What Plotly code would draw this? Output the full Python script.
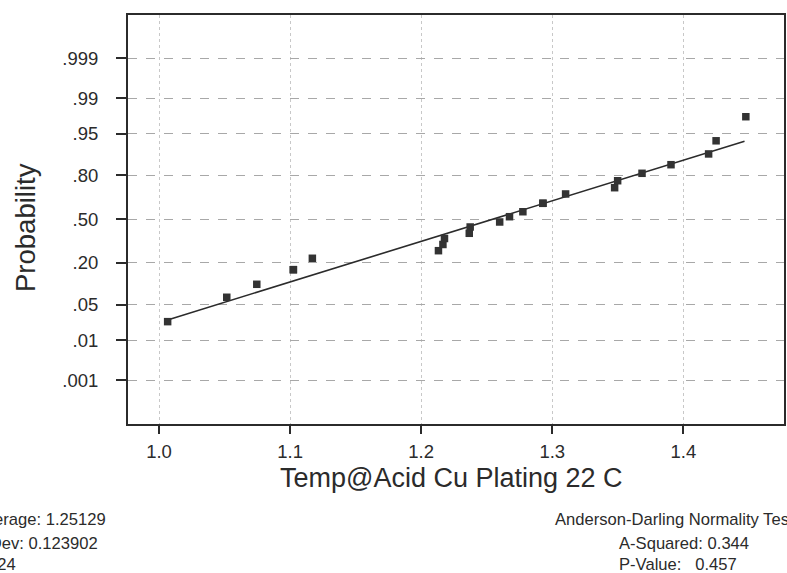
from statistics import NormalDist
import plotly.graph_objects as go

# ---- data ----
temp_values = [1.0066, 1.0517, 1.0746, 1.1025, 1.1025, 1.1170, 1.2132, 1.2166,
               1.2178, 1.2367, 1.2374, 1.2599, 1.2674, 1.2776, 1.2929, 1.2929,
               1.3102, 1.3476, 1.3499, 1.3685, 1.3906, 1.4193, 1.4250, 1.4477]
prob_values = [0.0245, 0.0668, 0.1055, 0.1660, 0.1660, 0.2263, 0.2726, 0.3135,
               0.3553, 0.3932, 0.4404, 0.4785, 0.5190, 0.5570, 0.6200, 0.6200,
               0.6860, 0.7274, 0.7700, 0.8110, 0.8524, 0.8950, 0.9340, 0.9755]
fit_x = [1.0071, 1.4467]
fit_p = [0.0268, 0.9328]

prob_ticks = [0.001, 0.01, 0.05, 0.20, 0.50, 0.80, 0.95, 0.99, 0.999]
prob_tick_labels = [".001", ".01", ".05", ".20", ".50", ".80", ".95", ".99", ".999"]
x_ticks = [1.0, 1.1, 1.2, 1.3, 1.4]
x_tick_labels = ["1.0", "1.1", "1.2", "1.3", "1.4"]

stats_left = ["Average: 1.25129", "StDev: 0.123902", "N: 24"]
stats_right = ["Anderson-Darling Normality Test", "A-Squared: 0.344", "P-Value:   0.457"]

nd = NormalDist()
z = lambda p: nd.inv_cdf(p)

W, H = 787, 573
L, R, T, B = 128, 784, 15, 424
pw, ph = R - L, B - T
px = lambda x: (x - L) / pw
py = lambda y: (B - y) / ph

FONT = "Arial, Liberation Sans, sans-serif"
INK = "#2b2b2b"

fig = go.Figure()
fig.add_trace(go.Scatter(x=fit_x, y=[z(p) for p in fit_p], mode="lines",
                         line=dict(color=INK, width=1.6), showlegend=False,
                         hoverinfo="skip"))
fig.add_trace(go.Scatter(x=temp_values, y=[z(p) for p in prob_values], mode="markers",
                         marker=dict(symbol="square", size=7.5, color="#333333",
                                     line=dict(width=0)),
                         showlegend=False))

fig.update_layout(
    width=W, height=H,
    margin=dict(l=L, r=W - R, t=T, b=H - B, autoexpand=False),
    paper_bgcolor="white", plot_bgcolor="white",
    font=dict(family=FONT, color=INK),
    xaxis=dict(range=[0.97635, 1.47681], tickvals=x_ticks, ticktext=x_tick_labels,
               ticks="outside", ticklen=8, tickwidth=1.5, tickcolor=INK,
               tickfont=dict(size=18.5, family=FONT, color=INK),
               showline=True, mirror=True, linecolor=INK, linewidth=2,
               showgrid=True, gridcolor="#c8c8c8", griddash="dot", gridwidth=1,
               zeroline=False, ticklabelstandoff=2, automargin=False),
    yaxis=dict(range=[-3.935, 3.923], tickvals=[z(p) for p in prob_ticks],
               ticktext=prob_tick_labels,
               ticks="outside", ticklen=10, tickwidth=1.5, tickcolor=INK,
               tickfont=dict(size=18.5, family=FONT, color=INK),
               showline=True, mirror=True, linecolor=INK, linewidth=2,
               showgrid=True, gridcolor="#a8a8a8", griddash="dash", gridwidth=1,
               zeroline=False, ticklabelstandoff=14, automargin=False),
)

ann = []
ann.append(dict(text="Temp@Acid Cu Plating 22 C", x=px(451), y=py(478), xref="paper",
                yref="paper", xanchor="center", yanchor="middle", showarrow=False,
                font=dict(size=27, family=FONT, color=INK)))
ann.append(dict(text="Probability", x=px(25), y=py(228), xref="paper", yref="paper",
                xanchor="center", yanchor="middle", textangle=-90, showarrow=False,
                font=dict(size=27.5, family=FONT, color=INK)))
left_right_edges = [108, 100, 18]
row_y = [519, 543, 564]
for t, xr, yy in zip(stats_left, left_right_edges, row_y):
    ann.append(dict(text=t, x=px(xr), y=py(yy), xref="paper", yref="paper",
                    xanchor="right", yanchor="middle", showarrow=False,
                    font=dict(size=16.6, family=FONT, color=INK)))
right_left_edges = [553, 617, 617]
for t, xl, yy in zip(stats_right, right_left_edges, row_y):
    ann.append(dict(text=t, x=px(xl), y=py(yy), xref="paper", yref="paper",
                    xanchor="left", yanchor="middle", showarrow=False,
                    font=dict(size=16.6, family=FONT, color=INK)))
fig.update_layout(annotations=ann)

fig.write_html("out.html", config={"displayModeBar": False},
               post_script="document.body.style.margin='0';document.body.style.overflow='hidden';")
